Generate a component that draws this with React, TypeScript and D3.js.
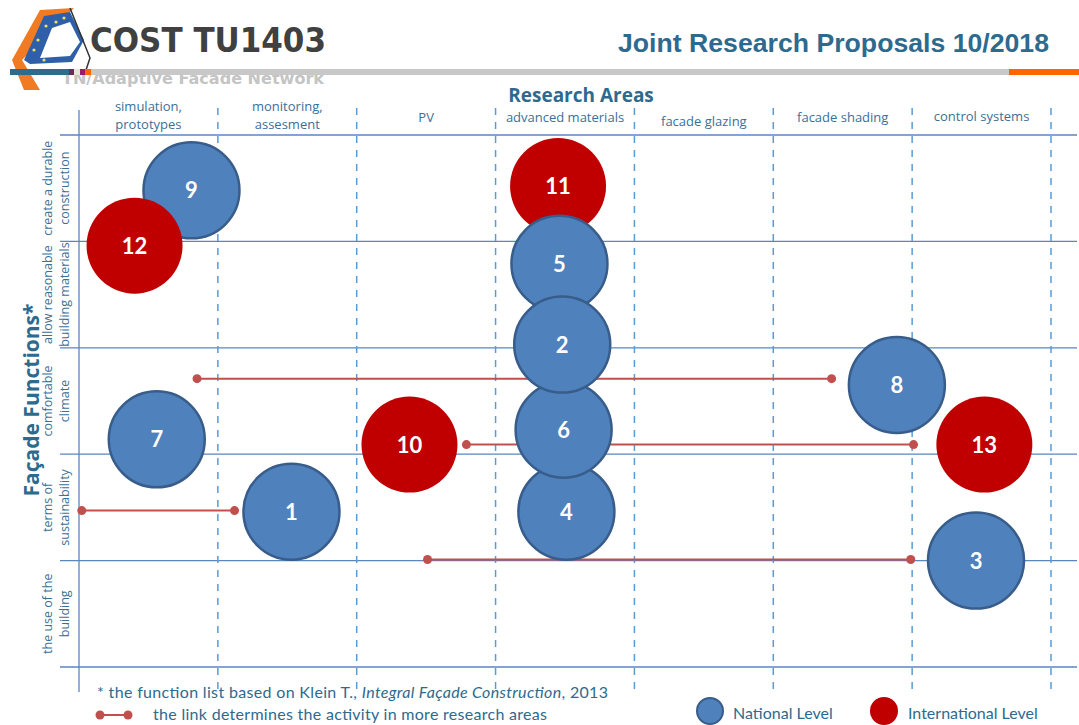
import React from "react";
import * as d3 from "d3";

const researchAreas = [
  ["simulation,", "prototypes"],
  ["monitoring,", "assesment"],
  ["PV"],
  ["advanced materials"],
  ["facade glazing"],
  ["facade shading"],
  ["control systems"],
];
const headerYOffsets = [0, 0, 0, 0, 4, 0, -1];

const facadeFunctions = [
  ["create a durable", "construction"],
  ["allow reasonable", "building materials"],
  ["comfortable", "climate"],
  ["terms of", "sustainability"],
  ["the use of the", "building"],
];

// proposals: id, level, x (column units), y (row units)
const proposalIds = [9, 12, 11, 5, 4, 6, 2, 8, 7, 10, 13, 1, 3];
const proposalLevels = ["N", "I", "I", "N", "N", "N", "N", "N", "N", "I", "I", "N", "N"];
const proposalX = [0.81, 0.40, 3.45, 3.46, 3.51, 3.49, 3.48, 5.89, 0.56, 2.38, 6.52, 1.53, 6.46];
const proposalY = [0.52, 1.04, 0.48, 1.21, 3.54, 2.77, 1.97, 2.35, 2.86, 2.91, 2.91, 3.54, 4.00];

// links between research areas (x in column units, y in row units)
const linkX1 = [0.85, 2.79, 0.02, 2.51];
const linkX2 = [5.42, 6.01, 1.12, 5.99];
const linkY = [2.29, 2.91, 3.53, 3.99];

const COL_COLOR = "#2E6A8E";
const TEXT_COLOR = "#3B6F97";
const BLUE = "#4F81BD";
const BLUE_STROKE = "#385D8A";
const RED = "#C00000";
const LINK = "#C0504D";

export default function App() {
  const W = 1079, H = 725;
  const x = d3.scaleLinear().domain([0, researchAreas.length]).range([79, 1051]);
  const y = d3.scaleLinear().domain([0, facadeFunctions.length]).range([135, 667]);
  const R = 48;

  const rows = d3.range(facadeFunctions.length + 1);
  const cols = d3.range(1, researchAreas.length + 1);

  return (
    <svg width={W} height={H} style={{ position: "absolute", left: 0, top: 0, background: "#fff" }}
      fontFamily="'Open Sans', 'Noto Sans', sans-serif">
      {/* logo */}
      <g>
        <polygon points="40,10 74,8 22,60 40,90 24,90 12,60" fill="#F07B22" />
        <polygon points="44,16 70,12 84,40 72,62 30,64 24,60" fill="#2F5FA8" />
        <polygon points="52,28 70,22 80,42 70,56 40,58" fill="#fff" />
        <polyline points="70,8 90,58 84,76" fill="none" stroke="#333" strokeWidth={1.5} />
        {[[46, 26], [56, 22], [64, 18], [38, 40], [34, 50], [44, 60]].map((p, i) => (
          <circle key={i} cx={p[0]} cy={p[1]} r={1.6} fill="#E8E060" />
        ))}
        <text x={90} y={52} fontFamily="'DejaVu Sans', sans-serif" fontWeight="bold" fontSize={33}
          fill="#404040" textLength={236} lengthAdjust="spacingAndGlyphs">COST TU1403</text>
        <text x={62} y={84} fontFamily="'DejaVu Sans', sans-serif" fontWeight="bold" fontSize={15}
          fill="#C4C4C4" textLength={262} lengthAdjust="spacingAndGlyphs">TN/Adaptive Facade Network</text>
      </g>
      {/* header bar */}
      <rect x={10} y={69} width={59} height={6} fill="#2F6B8C" />
      <rect x={69} y={69} width={5} height={6} fill="#6A2C5A" />
      <rect x={74} y={69} width={6} height={6} fill="#E8E4DC" />
      <rect x={80} y={69} width={5} height={6} fill="#9B1B6B" />
      <rect x={85} y={69} width={6} height={6} fill="#FF6600" />
      <rect x={91} y={69} width={918} height={6} fill="#C8C8C8" />
      <rect x={1009} y={69} width={70} height={6} fill="#FF6600" />
      <text x={1049} y={52} textAnchor="end" fontFamily="'Liberation Sans', Arial, sans-serif"
        fontWeight="bold" fontSize={25} fill={COL_COLOR} textLength={431}
        lengthAdjust="spacingAndGlyphs">Joint Research Proposals 10/2018</text>

      {/* axis titles */}
      <text x={581} y={102} textAnchor="middle" fontWeight="bold" fontSize={19} fill={COL_COLOR}>Research Areas</text>
      <text transform={`translate(39,400) rotate(-90)`} textAnchor="middle" fontWeight="bold"
        fontSize={21} fill={COL_COLOR}>Façade Functions*</text>

      {/* grid */}
      {rows.map((r) => (
        <line key={"h" + r} x1={60} x2={1077} y1={y(r)} y2={y(r)} stroke="#5A86C0" strokeWidth={1.3} />
      ))}
      <line x1={x(0)} x2={x(0)} y1={110} y2={692} stroke="#5A86C0" strokeWidth={1.3} />
      {cols.map((c) => (
        <line key={"v" + c} x1={x(c)} x2={x(c)} y1={108} y2={690} stroke="#5B9BD5" strokeWidth={1.5}
          strokeDasharray="7,7" />
      ))}

      {/* column headers */}
      {researchAreas.map((lines, i) => {
        const cx = (x(i) + x(i + 1)) / 2;
        const y0 = lines.length === 2 ? 111 : 122;
        return (
          <text key={"c" + i} x={cx} textAnchor="middle" fontSize={13} fill={TEXT_COLOR}>
            {lines.map((l, j) => (
              <tspan key={j} x={cx} y={y0 + headerYOffsets[i] + j * 18}>{l}</tspan>
            ))}
          </text>
        );
      })}

      {/* row labels */}
      {facadeFunctions.map((lines, i) => {
        const cy = (y(i) + y(i + 1)) / 2;
        return (
          <text key={"r" + i} transform={`translate(52,${cy}) rotate(-90)`} textAnchor="middle"
            fontSize={12.5} fill={TEXT_COLOR}>
            {lines.map((l, j) => (
              <tspan key={j} x={0} y={j * 17}>{l}</tspan>
            ))}
          </text>
        );
      })}

      {/* links */}
      {linkY.map((ly, i) => (
        <g key={"l" + i}>
          <line x1={x(linkX1[i])} x2={x(linkX2[i])} y1={y(ly)} y2={y(ly)} stroke={LINK} strokeWidth={2} />
          <circle cx={x(linkX1[i])} cy={y(ly)} r={4.5} fill={LINK} />
          <circle cx={x(linkX2[i])} cy={y(ly)} r={4.5} fill={LINK} />
        </g>
      ))}

      {/* proposals */}
      {proposalIds.map((id, i) => {
        const nat = proposalLevels[i] === "N";
        const cx = x(proposalX[i]);
        const cy = y(proposalY[i]);
        return (
          <g key={"p" + id}>
            <circle cx={cx} cy={cy} r={R} fill={nat ? BLUE : RED}
              stroke={nat ? BLUE_STROKE : "none"} strokeWidth={2.5} />
            <text x={cx} y={cy + 8} textAnchor="middle" fontWeight="bold" fontSize={22} fill="#fff"
              fontFamily="Lato, 'Open Sans', sans-serif">{id}</text>
          </g>
        );
      })}

      {/* footnotes */}
      <text x={97} y={698} fontSize={16} fill={COL_COLOR} fontFamily="Lato, 'Open Sans', sans-serif"
        textLength={511} lengthAdjust="spacing">
        * the function list based on Klein T., <tspan fontStyle="italic">Integral Façade Construction</tspan>, 2013
      </text>
      <line x1={100} x2={128} y1={715} y2={715} stroke={LINK} strokeWidth={2} />
      <circle cx={100} cy={715} r={4.5} fill={LINK} />
      <circle cx={128} cy={715} r={4.5} fill={LINK} />
      <text x={153} y={720} fontSize={16} fill={COL_COLOR} fontFamily="Lato, 'Open Sans', sans-serif"
        textLength={394} lengthAdjust="spacing">
        the link determines the activity in more research areas
      </text>

      {/* legend */}
      <circle cx={710} cy={711} r={13} fill={BLUE} stroke={BLUE_STROKE} strokeWidth={2} />
      <text x={733} y={719} fontSize={16} fill={COL_COLOR} fontFamily="Lato, 'Open Sans', sans-serif">National Level</text>
      <circle cx={884} cy={711} r={14} fill={RED} />
      <text x={908} y={719} fontSize={16} fill={COL_COLOR} fontFamily="Lato, 'Open Sans', sans-serif">International Level</text>
    </svg>
  );
}
